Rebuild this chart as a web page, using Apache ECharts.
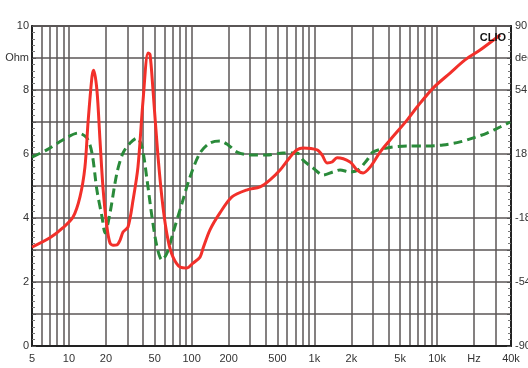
<!DOCTYPE html>
<html>
<head>
<meta charset="utf-8">
<script src="https://cdn.jsdelivr.net/npm/echarts@6/dist/echarts.min.js"></script>
<style>
  html, body { margin: 0; padding: 0; background: #ffffff; }
  #chart { width: 528px; height: 368px; }
</style>
</head>
<body>
<div id="chart"></div>
<script>
// Impedance magnitude (Ohm) versus frequency (Hz)
const impedanceFreq = [5, 7.0, 8.9, 10.8, 12.3, 13.5, 14.3, 15.4, 15.9, 16.9, 17.9, 19.0, 20.4, 21.6, 23, 24.6, 26.1, 27.6, 30.3, 33.3, 36.5, 40.2, 44.1, 45.8, 48.4, 53.2, 58.4, 64.2, 70.5, 80.4, 91.7, 102.6, 117, 124, 141, 170, 213, 283, 361, 435, 525, 633, 722, 808, 1051, 1155, 1268, 1393, 1530, 1953, 2227, 2492, 2843, 3430, 4137, 5690, 6866, 9270, 12755, 16900, 22390, 32600];
const impedanceOhm = [3.09, 3.38, 3.69, 4.03, 4.66, 5.59, 6.97, 8.41, 8.62, 8.0, 6.44, 4.88, 3.72, 3.22, 3.15, 3.16, 3.31, 3.56, 3.72, 4.56, 5.59, 7.69, 9.16, 9.1, 8.0, 5.91, 4.34, 3.31, 2.78, 2.47, 2.44, 2.59, 2.78, 3.06, 3.63, 4.16, 4.66, 4.88, 4.97, 5.19, 5.5, 5.9, 6.13, 6.19, 6.13, 5.97, 5.72, 5.75, 5.88, 5.75, 5.5, 5.41, 5.59, 6.06, 6.44, 7.06, 7.47, 8.06, 8.53, 8.94, 9.25, 9.72];

// Impedance phase (degrees) versus frequency (Hz)
const phaseFreq = [5, 6.6, 8.9, 11.9, 14.0, 15.4, 16.9, 18.6, 19.7, 21.6, 24.6, 27.6, 31.5, 35.9, 39.4, 43.3, 47.5, 52.2, 57.3, 63, 70.5, 83.5, 97, 117, 141, 170, 198, 234, 299, 411, 555, 722, 808, 975, 1176, 1419, 1618, 1953, 2269, 2687, 3007, 3910, 5690, 8284, 11185, 15386, 19640, 25535, 32600, 39335];
const phaseDeg = [16.3, 20.3, 25.9, 29.8, 27, 18.6, -2.3, -17.4, -26.4, -15.2, 7.3, 18.6, 24.2, 27, 21.9, 3.4, -17.4, -34.3, -41.6, -37.7, -26.4, -9.6, 5.1, 18.6, 24.2, 25.3, 23.1, 19.1, 17.4, 17.4, 18.6, 18.6, 14.6, 10.1, 6.2, 7.9, 9.0, 7.9, 9.0, 14.6, 19.1, 21.4, 22.5, 22.5, 23.1, 24.8, 27, 29.8, 33.2, 36];

// Frequency axis labels
const freqLabelValues = [5, 10, 20, 50, 100, 200, 500, 1000, 2000, 5000, 10000, 20000, 40000];
const freqLabelTexts = ['5', '10', '20', '50', '100', '200', '500', '1k', '2k', '5k', '10k', 'Hz', '40k'];

// Left axis labels (Ohm) and right axis labels (deg)
const ohmLabels = { 0: '0', 2: '2', 4: '4', 6: '6', 8: '8', 9: 'Ohm', 10: '10' };
const degLabels = { '90': '90', '72': 'deg', '54': '54', '18': '18', '-18': '-18', '-54': '-54', '-90': '-90' };

const F_MIN = 5, F_MAX = 40000;

// 1-2-...-9 log grid between the axis limits
const gridFreqs = [];
[1, 10, 100, 1000, 10000].forEach(function (d) {
  for (let m = 1; m <= 9; m++) {
    const f = m * d;
    if (f >= F_MIN && f <= F_MAX) gridFreqs.push(f);
  }
});

const zip = (xs, ys) => xs.map((x, i) => [x, ys[i]]);

const gridColor = '#5b5656';
const labelFont = { color: '#333', fontSize: 11, fontFamily: 'Liberation Sans, Arial, sans-serif' };

const chart = echarts.init(document.getElementById('chart'), null, { renderer: 'canvas' });
chart.setOption({
  animation: false,
  backgroundColor: '#ffffff',
  title: {
    text: 'CLIO',
    right: 17,
    top: 27,
    textStyle: { fontSize: 11, fontWeight: 'bold', color: '#111', fontFamily: 'Liberation Sans, Arial, sans-serif' }
  },
  grid: {
    left: 32, right: 17, top: 26, bottom: 22,
    outerBoundsMode: 'none',
    containLabel: false,
    show: true, borderColor: '#222', borderWidth: 1.5, backgroundColor: '#ffffff'
  },
  xAxis: {
    type: 'log',
    logBase: 10,
    min: F_MIN,
    max: F_MAX,
    axisLine: { show: true, lineStyle: { color: '#222', width: 2 } },
    axisTick: { show: false, customValues: gridFreqs },
    splitLine: { show: true, lineStyle: { color: gridColor, width: 1.5 } },
    minorSplitLine: { show: false },
    axisLabel: Object.assign({
      customValues: freqLabelValues,
      margin: 7,
      hideOverlap: false,
      formatter: function (v) {
        const i = freqLabelValues.findIndex(function (f) { return Math.abs(f - v) / f < 1e-6; });
        return i >= 0 ? freqLabelTexts[i] : '';
      }
    }, labelFont)
  },
  yAxis: [
    {
      type: 'value',
      min: 0, max: 10, interval: 1,
      position: 'left',
      axisLine: { show: true, lineStyle: { color: '#222', width: 2 } },
      axisTick: { show: true, inside: true, length: 4, lineStyle: { color: '#555' } },
      minorTick: { show: true, splitNumber: 5, length: 3, lineStyle: { color: '#777' } },
      splitLine: { show: true, lineStyle: { color: gridColor, width: 1.5 } },
      axisLabel: Object.assign({
        margin: 3,
        formatter: function (v) { return ohmLabels[v] !== undefined ? ohmLabels[v] : ''; }
      }, labelFont)
    },
    {
      type: 'value',
      min: -90, max: 90, interval: 18,
      position: 'right',
      axisLine: { show: true, lineStyle: { color: '#222', width: 2 } },
      axisTick: { show: true, inside: true, length: 4, lineStyle: { color: '#555' } },
      minorTick: { show: true, splitNumber: 5, length: 3, lineStyle: { color: '#777' } },
      splitLine: { show: false },
      axisLabel: Object.assign({
        margin: 4,
        formatter: function (v) { const k = String(Math.round(v)); return degLabels[k] !== undefined ? degLabels[k] : ''; }
      }, labelFont)
    }
  ],
  series: [
    {
      name: 'Phase',
      type: 'line',
      yAxisIndex: 1,
      data: zip(phaseFreq, phaseDeg),
      showSymbol: false,
      smooth: 0.3,
      lineStyle: { color: '#2a8a3a', width: 3, type: [9, 5] },
      z: 3
    },
    {
      name: 'Impedance',
      type: 'line',
      yAxisIndex: 0,
      data: zip(impedanceFreq, impedanceOhm),
      showSymbol: false,
      smooth: 0.3,
      lineStyle: { color: '#f2302a', width: 3 },
      z: 4
    }
  ]
});
</script>
</body>
</html>
